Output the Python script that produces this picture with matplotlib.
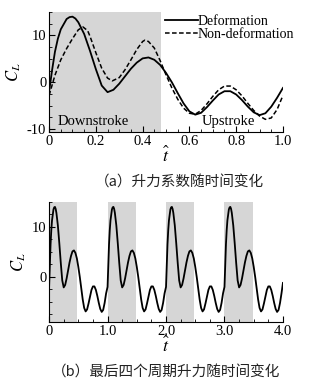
import matplotlib
matplotlib.use('Agg')
import matplotlib.pyplot as plt
from matplotlib.ticker import MultipleLocator, FuncFormatter
import numpy as np

plt.rcParams['font.family'] = ['Liberation Serif', 'DejaVu Serif']
plt.rcParams['mathtext.fontset'] = 'stix'
plt.rcParams['axes.unicode_minus'] = False

# one stroke cycle
t_def = [0, 0.0125, 0.025, 0.0375, 0.05, 0.075, 0.0875, 0.1, 0.1125, 0.125, 0.15, 0.175,
         0.2, 0.225, 0.25, 0.275, 0.3, 0.325, 0.35, 0.375, 0.4, 0.425, 0.45, 0.475,
         0.5, 0.525, 0.55, 0.575, 0.6, 0.625, 0.65, 0.675, 0.7, 0.725, 0.75, 0.775,
         0.8, 0.825, 0.85, 0.875, 0.9, 0.925, 0.95, 0.975, 1.0]
cl_def = [-2.0, 2.5, 6.5, 9.3, 11.3, 13.5, 13.9, 14.0, 13.6, 12.8, 10.3, 6.7,
          2.8, -0.7, -2.1, -1.6, -0.3, 1.3, 2.9, 4.2, 5.1, 5.3, 4.8, 3.7,
          2.0, 0.0, -2.3, -4.5, -6.2, -6.9, -6.5, -5.3, -3.9, -2.6, -1.9, -1.9,
          -2.6, -3.8, -5.2, -6.4, -7.0, -6.6, -5.2, -3.3, -1.2]

t_non = [0, 0.025, 0.05, 0.075, 0.1, 0.125, 0.145, 0.165, 0.175, 0.2, 0.225, 0.25, 0.27,
         0.3, 0.325, 0.35, 0.375, 0.4, 0.41, 0.425, 0.45, 0.475, 0.5, 0.525,
         0.55, 0.575, 0.6, 0.625, 0.65, 0.675, 0.7, 0.725, 0.75, 0.775, 0.8,
         0.825, 0.85, 0.875, 0.9, 0.925, 0.95, 0.975, 1.0]
cl_non = [-2.8, 1.5, 4.8, 7.2, 9.3, 11.2, 11.8, 11.0, 9.8, 6.3, 3.0, 0.9, 0.3,
          1.0, 2.7, 4.8, 7.0, 8.7, 9.0, 8.7, 7.3, 4.6, 1.6, -1.2,
          -3.6, -5.5, -6.6, -6.8, -6.0, -4.6, -3.0, -1.6, -0.8, -0.8, -1.6,
          -2.9, -4.5, -6.0, -7.2, -7.9, -7.6, -5.8, -2.8]

n_cycles = 4
downstroke_end = 0.48

# last four periods: same deformation cycle repeated
t_four = np.concatenate([np.array(t_def[:-1]) + k for k in range(n_cycles)] + [[n_cycles]])
cl_four = np.concatenate([np.array(cl_def[:-1]) for k in range(n_cycles)] + [[cl_def[-1]]])

shade = '#d6d6d6'
cjk = ['Noto Sans CJK SC', 'DejaVu Sans']
fig = plt.figure(figsize=(3.23, 3.86), dpi=100)

def style_axes(ax):
    ax.spines['top'].set_visible(False)
    ax.spines['right'].set_visible(False)
    ax.tick_params(direction='in', which='both', labelsize=10.5, pad=2)
    ax.tick_params(which='major', length=4)
    ax.tick_params(which='minor', length=2)
    ax.set_xlabel(r'$\hat{t}$', fontsize=13, labelpad=-1)
    ax.set_ylabel(r'$C_L$', fontsize=12, labelpad=3)

fmt = FuncFormatter(lambda v, p: '0' if abs(v) < 1e-9 else '%.1f' % v)

# (a)
ax1 = fig.add_axes([0.152, 0.658, 0.724, 0.311])
ax1.axvspan(0, downstroke_end, color=shade, lw=0)
ax1.plot(t_def, cl_def, 'k-', lw=1.3, label='Deformation')
ax1.plot(t_non, cl_non, 'k--', lw=1.1, dashes=(3, 1.6), label='Non-deformation')
ax1.set_xlim(0, 1)
ax1.set_ylim(-10.6, 15)
ax1.xaxis.set_major_locator(MultipleLocator(0.2))
ax1.xaxis.set_minor_locator(MultipleLocator(0.05))
ax1.xaxis.set_major_formatter(fmt)
ax1.set_yticks([-10, 0, 10])
ax1.yaxis.set_minor_locator(MultipleLocator(2.5))
style_axes(ax1)
ax1.text(0.19, -8.4, 'Downstroke', fontsize=10.5, ha='center', va='center')
ax1.text(0.765, -8.4, 'Upstroke', fontsize=10.5, ha='center', va='center')
ax1.legend(loc='upper left', bbox_to_anchor=(0.47, 1.02), frameon=False, fontsize=10,
           handlelength=2.4, handletextpad=0.0, labelspacing=0.0, borderaxespad=0)

fig.text(0.555, 0.528, '（a）升力系数随时间变化', fontsize=10.5, ha='center', va='center',
         family=cjk, color='#222222')

# (b)
ax2 = fig.add_axes([0.152, 0.166, 0.724, 0.311])
for k in range(n_cycles):
    ax2.axvspan(k, k + downstroke_end, color=shade, lw=0)
ax2.plot(t_four, cl_four, 'k-', lw=1.3)
ax2.set_xlim(0, n_cycles)
ax2.set_ylim(-9, 15)
ax2.xaxis.set_major_locator(MultipleLocator(1.0))
ax2.xaxis.set_minor_locator(MultipleLocator(0.25))
ax2.xaxis.set_major_formatter(fmt)
ax2.set_yticks([0, 10])
ax2.yaxis.set_minor_locator(MultipleLocator(2.5))
style_axes(ax2)

fig.text(0.515, 0.036, '（b）最后四个周期升力随时间变化', fontsize=10.5, ha='center', va='center',
         family=cjk, color='#222222')

fig.savefig('out.png', dpi=100)
